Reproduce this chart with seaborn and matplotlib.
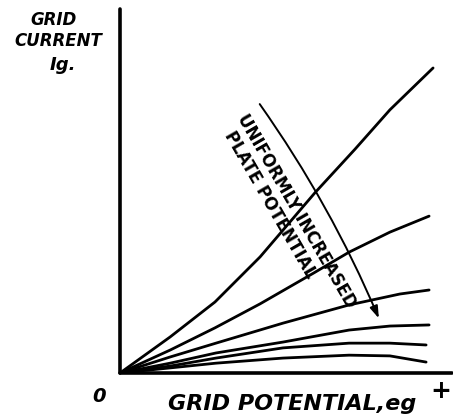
import seaborn as sns
import matplotlib.pyplot as plt
import pandas as pd

# grid current vs grid potential, one curve per plate potential
curve1_x = [0, 1.51, 2.86, 4.22, 5.87, 7.08, 8.13, 9.43]
curve1_y = [0, 0.99, 1.95, 3.19, 4.95, 6.15, 7.23, 8.38]
curve2_x = [0, 1.51, 2.86, 4.22, 5.84, 6.90, 8.13, 9.31]
curve2_y = [0, 0.63, 1.24, 1.90, 2.75, 3.32, 3.87, 4.31]
curve3_x = [0, 1.51, 2.89, 4.91, 6.90, 8.43, 9.31]
curve3_y = [0, 0.44, 0.82, 1.37, 1.87, 2.17, 2.28]
curve4_x = [0, 1.51, 2.89, 4.91, 6.90, 8.13, 9.31]
curve4_y = [0, 0.27, 0.55, 0.85, 1.18, 1.29, 1.32]
curve5_x = [0, 1.51, 2.89, 4.91, 6.90, 8.13, 9.22]
curve5_y = [0, 0.19, 0.41, 0.69, 0.82, 0.82, 0.77]
curve6_x = [0, 1.51, 2.89, 4.91, 6.90, 8.13, 9.22]
curve6_y = [0, 0.14, 0.27, 0.41, 0.49, 0.47, 0.30]

curves = [(curve1_x, curve1_y), (curve2_x, curve2_y), (curve3_x, curve3_y),
          (curve4_x, curve4_y), (curve5_x, curve5_y), (curve6_x, curve6_y)]
rows = []
for i, (xs, ys) in enumerate(curves):
    for x, y in zip(xs, ys):
        rows.append({"curve": i, "eg": x, "ig": y})
df = pd.DataFrame(rows)

sns.set_theme(style="white")
plt.rcParams['font.family'] = ['DejaVu Sans']

W, H = 453, 419
fig = plt.figure(figsize=(W / 100, H / 100), dpi=100)
ax = fig.add_axes([120 / W, (H - 373) / H, (452 - 120) / W, (373 - 9) / H])

sns.lineplot(data=df, x="eg", y="ig", units="curve", estimator=None, sort=False,
             color="black", linewidth=2.0, ax=ax,
             solid_capstyle="round", solid_joinstyle="round")

ax.set_xlim(0, 10)
ax.set_ylim(0, 10)
ax.set_xticks([])
ax.set_yticks([])
ax.set_xlabel("")
ax.set_ylabel("")
for s in ["top", "right"]:
    ax.spines[s].set_visible(False)
for s in ["left", "bottom"]:
    ax.spines[s].set_linewidth(2.6)
    ax.spines[s].set_color("black")
    ax.spines[s].set_capstyle("round")

# arrow for increasing plate potential
ax.annotate("", xy=(7.83, 1.43), xytext=(4.16, 7.45),
            arrowprops=dict(arrowstyle="-|>,head_length=0.6,head_width=0.2",
                            connectionstyle="arc3,rad=-0.055",
                            color="black", lw=1.4))

rot = dict(fontweight="bold", color="black", ha="center", va="center",
           rotation=-60, rotation_mode="anchor", fontsize=12)
ax.text(5.31, 4.44, "UNIFORMLY INCREASED", **rot)
ax.text(4.51, 4.62, "PLATE POTENTIAL", **rot)

txt = dict(fontweight="bold", fontstyle="italic", color="black",
           ha="center", va="center")

def px(x, y):
    return x / W, 1 - y / H

fig.text(*px(54, 20), "GRID", fontsize=12, **txt)
fig.text(*px(58, 41), "CURRENT", fontsize=12, **txt)
fig.text(*px(63, 65), "Ig.", fontsize=13, **txt)
fig.text(*px(99, 396), "0", fontsize=14, **txt)
fig.text(292 / W, 1 - 410 / H, "GRID POTENTIAL,eg", fontsize=16,
         fontweight="bold", fontstyle="italic", color="black",
         ha="center", va="baseline")
fig.text(*px(441, 391), "+", fontsize=18, **txt)

fig.savefig("out.png", dpi=100, facecolor="white")
